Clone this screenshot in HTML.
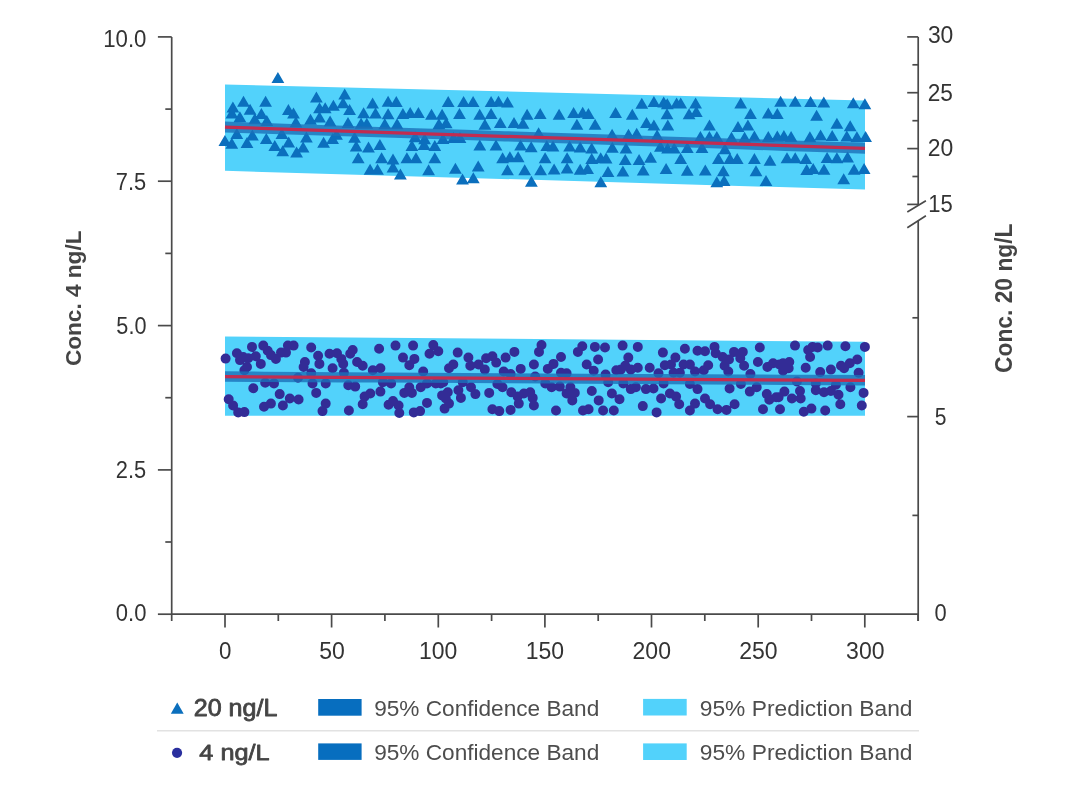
<!DOCTYPE html><html><head><meta charset="utf-8"><title>Concentration chart</title><style>html,body{margin:0;padding:0;background:#fff;width:1080px;height:794px;overflow:hidden}svg{display:block;will-change:transform}text{font-family:"Liberation Sans",Arial,sans-serif}</style></head><body>
<svg width="1080" height="794" viewBox="0 0 1080 794">
<rect width="1080" height="794" fill="#fff"/>
<polygon points="225,84.4 865,100.6 865,189.6 225,170.8" fill="#52d2fb"/>
<polygon points="225,336.6 865,341.7 865,415.8 225,415.8" fill="#52d2fb"/>
<path d="M271.5 83.0L277.9 72.0L284.3 83.0ZM218.5 146.0L224.9 135.0L231.3 146.0ZM225.4 148.8L231.8 137.8L238.2 148.8ZM226.5 112.5L232.9 101.5L239.3 112.5ZM225.5 118.5L231.9 107.5L238.3 118.5ZM237.1 106.7L243.5 95.7L249.9 106.7ZM243.7 114.8L250.1 103.8L256.5 114.8ZM233.5 122.3L239.9 111.3L246.3 122.3ZM259.2 106.7L265.6 95.7L272.0 106.7ZM255.0 119.0L261.4 108.0L267.8 119.0ZM248.4 124.3L254.8 113.3L261.2 124.3ZM260.4 125.9L266.8 114.9L273.2 125.9ZM230.4 139.0L236.8 128.0L243.2 139.0ZM246.0 140.6L252.4 129.6L258.8 140.6ZM240.6 148.0L247.0 137.0L253.4 148.0ZM259.9 143.9L266.3 132.9L272.7 143.9ZM268.4 150.9L274.8 139.9L281.2 150.9ZM276.3 156.2L282.7 145.2L289.1 156.2ZM282.3 147.5L288.7 136.5L295.1 147.5ZM290.2 157.5L296.6 146.5L303.0 157.5ZM296.7 152.6L303.1 141.6L309.5 152.6ZM300.0 142.6L306.4 131.6L312.8 142.6ZM282.0 114.9L288.4 103.9L294.8 114.9ZM287.1 118.5L293.5 107.5L299.9 118.5ZM289.5 127.5L295.9 116.5L302.3 127.5ZM275.5 139.0L281.9 128.0L288.3 139.0ZM310.0 102.6L316.4 91.6L322.8 102.6ZM313.1 113.3L319.5 102.3L325.9 113.3ZM304.1 124.7L310.5 113.7L316.9 124.7ZM313.1 122.6L319.5 111.6L325.9 122.6ZM318.8 113.3L325.2 102.3L331.6 113.3ZM327.0 110.8L333.4 99.8L339.8 110.8ZM323.7 126.4L330.1 115.4L336.5 126.4ZM317.2 147.7L323.6 136.7L330.0 147.7ZM326.2 143.9L332.6 132.9L339.0 143.9ZM338.3 99.4L344.7 88.4L351.1 99.4ZM336.7 108.2L343.1 97.2L349.5 108.2ZM343.2 114.9L349.6 103.9L356.0 114.9ZM341.6 128.0L348.0 117.0L354.4 128.0ZM366.2 108.4L372.6 97.4L379.0 108.4ZM381.7 106.7L388.1 95.7L394.5 106.7ZM389.9 107.1L396.3 96.1L402.7 107.1ZM357.2 118.2L363.6 107.2L370.0 118.2ZM369.1 118.5L375.5 107.5L381.9 118.5ZM381.7 119.3L388.1 108.3L394.5 119.3ZM396.5 119.0L402.9 108.0L409.3 119.0ZM403.8 118.0L410.2 107.0L416.6 118.0ZM412.0 118.0L418.4 107.0L424.8 118.0ZM425.1 119.8L431.5 108.8L437.9 119.8ZM435.7 119.8L442.1 108.8L448.5 119.8ZM441.8 107.1L448.2 96.1L454.6 107.1ZM354.7 128.8L361.1 117.8L367.5 128.8ZM360.4 128.8L366.8 117.8L373.2 128.8ZM378.4 129.2L384.8 118.2L391.2 129.2ZM390.7 129.2L397.1 118.2L403.5 129.2ZM432.5 129.2L438.9 118.2L445.3 129.2ZM439.8 128.3L446.2 117.3L452.6 128.3ZM330.1 139.8L336.5 128.8L342.9 139.8ZM348.2 142.8L354.6 131.8L361.0 142.8ZM349.8 151.6L356.2 140.6L362.6 151.6ZM362.1 152.6L368.5 141.6L374.9 152.6ZM373.5 150.1L379.9 139.1L386.3 150.1ZM351.8 163.2L358.2 152.2L364.6 163.2ZM375.2 163.2L381.6 152.2L388.0 163.2ZM386.6 164.4L393.0 153.4L399.4 164.4ZM363.7 174.7L370.1 163.7L376.5 174.7ZM371.1 174.7L377.5 163.7L383.9 174.7ZM386.6 172.6L393.0 161.6L399.4 172.6ZM394.0 179.4L400.4 168.4L406.8 179.4ZM400.5 163.2L406.9 152.2L413.3 163.2ZM409.6 163.2L416.0 152.2L422.4 163.2ZM405.5 150.9L411.9 139.9L418.3 150.9ZM417.7 150.1L424.1 139.1L430.5 150.1ZM418.2 144.2L424.6 133.2L431.0 144.2ZM408.7 142.3L415.1 131.3L421.5 142.3ZM428.4 150.9L434.8 139.9L441.2 150.9ZM428.4 163.2L434.8 152.2L441.2 163.2ZM422.2 175.3L428.6 164.3L435.0 175.3ZM436.6 143.9L443.0 132.9L449.4 143.9ZM457.2 107.1L463.6 96.1L470.0 107.1ZM466.7 107.1L473.1 96.1L479.5 107.1ZM484.7 107.1L491.1 96.1L497.5 107.1ZM492.1 106.7L498.5 95.7L504.9 106.7ZM501.1 107.6L507.5 96.6L513.9 107.6ZM453.1 119.0L459.5 108.0L465.9 119.0ZM473.3 119.8L479.7 108.8L486.1 119.8ZM484.7 119.0L491.1 108.0L497.5 119.0ZM478.5 129.7L484.9 118.7L491.3 129.7ZM493.9 128.0L500.3 117.0L506.7 128.0ZM507.6 128.0L514.0 117.0L520.4 128.0ZM516.6 128.8L523.0 117.8L529.4 128.8ZM520.7 119.8L527.1 108.8L533.5 119.8ZM533.8 119.0L540.2 108.0L546.6 119.0ZM552.7 119.8L559.1 108.8L565.5 119.8ZM532.2 138.2L538.6 127.2L545.0 138.2ZM447.1 143.1L453.5 132.1L459.9 143.1ZM453.6 143.1L460.0 132.1L466.4 143.1ZM473.4 150.4L479.8 139.4L486.2 150.4ZM489.6 150.4L496.0 139.4L502.4 150.4ZM514.2 150.4L520.6 139.4L527.0 150.4ZM524.8 152.2L531.2 141.2L537.6 152.2ZM540.4 151.1L546.8 140.1L553.2 151.1ZM546.6 151.6L553.0 140.6L559.4 151.6ZM496.2 163.2L502.6 152.2L509.0 163.2ZM503.5 162.2L509.9 151.2L516.3 162.2ZM511.7 162.2L518.1 151.2L524.5 162.2ZM538.7 163.2L545.1 152.2L551.5 163.2ZM449.0 173.7L455.4 162.7L461.8 173.7ZM471.8 171.4L478.2 160.4L484.6 171.4ZM456.1 184.5L462.5 173.5L468.9 184.5ZM466.9 183.2L473.3 172.2L479.7 183.2ZM501.1 175.3L507.5 164.3L513.9 175.3ZM518.3 175.3L524.7 164.3L531.1 175.3ZM534.2 175.3L540.6 164.3L547.0 175.3ZM547.7 174.5L554.1 163.5L560.5 174.5ZM525.0 186.8L531.4 175.8L537.8 186.8ZM567.2 118.0L573.6 107.0L580.0 118.0ZM576.3 117.7L582.7 106.7L589.1 117.7ZM582.0 118.9L588.4 107.9L594.8 118.9ZM570.5 129.7L576.9 118.7L583.3 129.7ZM588.7 129.7L595.1 118.7L601.5 129.7ZM609.2 118.0L615.6 107.0L622.0 118.0ZM625.9 119.8L632.3 108.8L638.7 119.8ZM635.4 108.7L641.8 97.7L648.2 108.7ZM647.5 107.1L653.9 96.1L660.3 107.1ZM657.3 107.6L663.7 96.6L670.1 107.6ZM660.6 119.3L667.0 108.3L673.4 119.3ZM640.1 128.0L646.5 117.0L652.9 128.0ZM647.5 130.5L653.9 119.5L660.3 130.5ZM661.4 130.5L667.8 119.5L674.2 130.5ZM605.7 139.8L612.1 128.8L618.5 139.8ZM622.1 139.8L628.5 128.8L634.9 139.8ZM630.3 138.7L636.7 127.7L643.1 138.7ZM650.7 140.6L657.1 129.6L663.5 140.6ZM563.2 151.4L569.6 140.4L576.0 151.4ZM573.8 152.4L580.2 141.4L586.6 152.4ZM585.3 153.4L591.7 142.4L598.1 153.4ZM605.9 152.7L612.3 141.7L618.7 152.7ZM619.6 153.4L626.0 142.4L632.4 153.4ZM654.0 151.8L660.4 140.8L666.8 151.8ZM560.7 163.2L567.1 152.2L573.5 163.2ZM585.3 164.0L591.7 153.0L598.1 164.0ZM594.3 163.2L600.7 152.2L607.1 163.2ZM599.7 163.5L606.1 152.5L612.5 163.5ZM618.8 164.9L625.2 153.9L631.6 164.9ZM632.7 164.9L639.1 153.9L645.5 164.9ZM644.2 162.7L650.6 151.7L657.0 162.7ZM560.7 173.4L567.1 162.4L573.5 173.4ZM573.8 174.7L580.2 163.7L586.6 174.7ZM581.2 173.9L587.6 162.9L594.0 173.9ZM601.6 177.1L608.0 166.1L614.4 177.1ZM616.5 176.5L622.9 165.5L629.3 176.5ZM636.8 175.5L643.2 164.5L649.6 175.5ZM659.7 173.9L666.1 162.9L672.5 173.9ZM594.4 187.3L600.8 176.3L607.2 187.3ZM660.9 109.2L667.3 98.2L673.7 109.2ZM670.2 108.4L676.6 97.4L683.0 108.4ZM674.3 108.4L680.7 97.4L687.1 108.4ZM689.2 108.4L695.6 97.4L702.0 108.4ZM682.7 119.2L689.1 108.2L695.5 119.2ZM689.9 116.9L696.3 105.9L702.7 116.9ZM734.3 108.4L740.7 97.4L747.1 108.4ZM774.2 106.7L780.6 95.7L787.0 106.7ZM744.1 119.0L750.5 108.0L756.9 119.0ZM761.9 118.5L768.3 107.5L774.7 118.5ZM770.9 119.0L777.3 108.0L783.7 119.0ZM703.1 130.5L709.5 119.5L715.9 130.5ZM731.6 132.1L738.0 121.1L744.4 132.1ZM741.5 130.5L747.9 119.5L754.3 130.5ZM694.0 141.9L700.4 130.9L706.8 141.9ZM703.0 141.9L709.4 130.9L715.8 141.9ZM710.4 141.9L716.8 130.9L723.2 141.9ZM725.1 142.8L731.5 131.8L737.9 142.8ZM738.2 142.8L744.6 131.8L751.0 142.8ZM748.0 141.4L754.4 130.4L760.8 141.4ZM761.9 141.9L768.3 130.9L774.7 141.9ZM770.9 141.4L777.3 130.4L783.7 141.4ZM777.5 141.0L783.9 130.0L790.3 141.0ZM667.8 153.4L674.2 142.4L680.6 153.4ZM680.9 152.9L687.3 141.9L693.7 152.9ZM695.6 152.9L702.0 141.9L708.4 152.9ZM718.5 154.2L724.9 143.2L731.3 154.2ZM674.3 164.0L680.7 153.0L687.1 164.0ZM712.0 164.0L718.4 153.0L724.8 164.0ZM723.5 164.0L729.9 153.0L736.3 164.0ZM730.8 164.0L737.2 153.0L743.6 164.0ZM748.0 164.0L754.4 153.0L760.8 164.0ZM763.6 165.7L770.0 154.7L776.4 165.7ZM680.9 175.8L687.3 164.8L693.7 175.8ZM698.9 175.5L705.3 164.5L711.7 175.5ZM716.9 176.3L723.3 165.3L729.7 176.3ZM710.4 187.3L716.8 176.3L723.2 187.3ZM717.7 186.0L724.1 175.0L730.5 186.0ZM749.6 176.3L756.0 165.3L762.4 176.3ZM759.6 186.0L766.0 175.0L772.4 186.0ZM661.2 153.4L667.6 142.4L674.0 153.4ZM788.8 106.7L795.2 95.7L801.6 106.7ZM804.2 107.1L810.6 96.1L817.0 107.1ZM817.4 107.6L823.8 96.6L830.2 107.6ZM846.9 108.2L853.3 97.2L859.7 108.2ZM858.5 109.2L864.9 98.2L871.3 109.2ZM810.2 120.7L816.6 109.7L823.0 120.7ZM830.5 128.8L836.9 117.8L843.3 128.8ZM843.8 131.3L850.2 120.3L856.6 131.3ZM784.7 141.9L791.1 130.9L797.5 141.9ZM803.5 142.3L809.9 131.3L816.3 142.3ZM814.2 140.6L820.6 129.6L827.0 140.6ZM825.8 141.1L832.2 130.1L838.6 141.1ZM840.4 141.4L846.8 130.4L853.2 141.4ZM850.5 142.3L856.9 131.3L863.3 142.3ZM859.2 141.9L865.6 130.9L872.0 141.9ZM780.6 163.2L787.0 152.2L793.4 163.2ZM788.8 163.2L795.2 152.2L801.6 163.2ZM799.4 164.0L805.8 153.0L812.2 164.0ZM820.7 163.1L827.1 152.1L833.5 163.1ZM830.5 163.2L836.9 152.2L843.3 163.2ZM841.2 162.4L847.6 151.4L854.0 162.4ZM800.3 175.0L806.7 164.0L813.1 175.0ZM806.8 174.0L813.2 163.0L819.6 174.0ZM817.6 174.7L824.0 163.7L830.4 174.7ZM847.7 174.7L854.1 163.7L860.5 174.7ZM857.7 173.9L864.1 162.9L870.5 173.9ZM837.3 184.3L843.7 173.3L850.1 184.3Z" fill="#0b6fbd"/>
<path d="M220.6 358.6a5.0 5.0 0 1 0 10.0 0a5.0 5.0 0 1 0 -10.0 0ZM231.9 353.2a5.0 5.0 0 1 0 10.0 0a5.0 5.0 0 1 0 -10.0 0ZM235.0 360.1a5.0 5.0 0 1 0 10.0 0a5.0 5.0 0 1 0 -10.0 0ZM238.2 357.0a5.0 5.0 0 1 0 10.0 0a5.0 5.0 0 1 0 -10.0 0ZM243.2 358.2a5.0 5.0 0 1 0 10.0 0a5.0 5.0 0 1 0 -10.0 0ZM242.0 367.0a5.0 5.0 0 1 0 10.0 0a5.0 5.0 0 1 0 -10.0 0ZM247.0 346.9a5.0 5.0 0 1 0 10.0 0a5.0 5.0 0 1 0 -10.0 0ZM250.8 356.3a5.0 5.0 0 1 0 10.0 0a5.0 5.0 0 1 0 -10.0 0ZM255.8 363.9a5.0 5.0 0 1 0 10.0 0a5.0 5.0 0 1 0 -10.0 0ZM258.3 345.6a5.0 5.0 0 1 0 10.0 0a5.0 5.0 0 1 0 -10.0 0ZM262.7 350.7a5.0 5.0 0 1 0 10.0 0a5.0 5.0 0 1 0 -10.0 0ZM265.9 355.1a5.0 5.0 0 1 0 10.0 0a5.0 5.0 0 1 0 -10.0 0ZM270.9 358.9a5.0 5.0 0 1 0 10.0 0a5.0 5.0 0 1 0 -10.0 0ZM276.0 352.6a5.0 5.0 0 1 0 10.0 0a5.0 5.0 0 1 0 -10.0 0ZM281.0 352.6a5.0 5.0 0 1 0 10.0 0a5.0 5.0 0 1 0 -10.0 0ZM282.9 345.6a5.0 5.0 0 1 0 10.0 0a5.0 5.0 0 1 0 -10.0 0ZM288.6 345.6a5.0 5.0 0 1 0 10.0 0a5.0 5.0 0 1 0 -10.0 0ZM239.4 370.2a5.0 5.0 0 1 0 10.0 0a5.0 5.0 0 1 0 -10.0 0ZM248.3 388.2a5.0 5.0 0 1 0 10.0 0a5.0 5.0 0 1 0 -10.0 0ZM260.2 382.8a5.0 5.0 0 1 0 10.0 0a5.0 5.0 0 1 0 -10.0 0ZM269.0 383.4a5.0 5.0 0 1 0 10.0 0a5.0 5.0 0 1 0 -10.0 0ZM274.7 394.1a5.0 5.0 0 1 0 10.0 0a5.0 5.0 0 1 0 -10.0 0ZM223.7 399.2a5.0 5.0 0 1 0 10.0 0a5.0 5.0 0 1 0 -10.0 0ZM228.1 405.5a5.0 5.0 0 1 0 10.0 0a5.0 5.0 0 1 0 -10.0 0ZM233.2 412.4a5.0 5.0 0 1 0 10.0 0a5.0 5.0 0 1 0 -10.0 0ZM239.4 412.1a5.0 5.0 0 1 0 10.0 0a5.0 5.0 0 1 0 -10.0 0ZM259.0 406.7a5.0 5.0 0 1 0 10.0 0a5.0 5.0 0 1 0 -10.0 0ZM265.9 403.6a5.0 5.0 0 1 0 10.0 0a5.0 5.0 0 1 0 -10.0 0ZM277.9 405.5a5.0 5.0 0 1 0 10.0 0a5.0 5.0 0 1 0 -10.0 0ZM284.8 398.5a5.0 5.0 0 1 0 10.0 0a5.0 5.0 0 1 0 -10.0 0ZM293.6 399.5a5.0 5.0 0 1 0 10.0 0a5.0 5.0 0 1 0 -10.0 0ZM293.0 377.7a5.0 5.0 0 1 0 10.0 0a5.0 5.0 0 1 0 -10.0 0ZM306.2 347.5a5.0 5.0 0 1 0 10.0 0a5.0 5.0 0 1 0 -10.0 0ZM299.9 362.0a5.0 5.0 0 1 0 10.0 0a5.0 5.0 0 1 0 -10.0 0ZM298.6 367.0a5.0 5.0 0 1 0 10.0 0a5.0 5.0 0 1 0 -10.0 0ZM306.2 373.3a5.0 5.0 0 1 0 10.0 0a5.0 5.0 0 1 0 -10.0 0ZM313.1 355.7a5.0 5.0 0 1 0 10.0 0a5.0 5.0 0 1 0 -10.0 0ZM314.4 363.9a5.0 5.0 0 1 0 10.0 0a5.0 5.0 0 1 0 -10.0 0ZM307.5 383.4a5.0 5.0 0 1 0 10.0 0a5.0 5.0 0 1 0 -10.0 0ZM311.2 392.9a5.0 5.0 0 1 0 10.0 0a5.0 5.0 0 1 0 -10.0 0ZM320.7 383.4a5.0 5.0 0 1 0 10.0 0a5.0 5.0 0 1 0 -10.0 0ZM324.5 353.8a5.0 5.0 0 1 0 10.0 0a5.0 5.0 0 1 0 -10.0 0ZM327.6 368.3a5.0 5.0 0 1 0 10.0 0a5.0 5.0 0 1 0 -10.0 0ZM332.0 353.2a5.0 5.0 0 1 0 10.0 0a5.0 5.0 0 1 0 -10.0 0ZM320.7 403.6a5.0 5.0 0 1 0 10.0 0a5.0 5.0 0 1 0 -10.0 0ZM317.5 411.1a5.0 5.0 0 1 0 10.0 0a5.0 5.0 0 1 0 -10.0 0ZM336.3 358.9a5.0 5.0 0 1 0 10.0 0a5.0 5.0 0 1 0 -10.0 0ZM338.2 363.9a5.0 5.0 0 1 0 10.0 0a5.0 5.0 0 1 0 -10.0 0ZM338.9 372.7a5.0 5.0 0 1 0 10.0 0a5.0 5.0 0 1 0 -10.0 0ZM347.7 350.0a5.0 5.0 0 1 0 10.0 0a5.0 5.0 0 1 0 -10.0 0ZM345.2 353.8a5.0 5.0 0 1 0 10.0 0a5.0 5.0 0 1 0 -10.0 0ZM352.1 362.0a5.0 5.0 0 1 0 10.0 0a5.0 5.0 0 1 0 -10.0 0ZM357.7 365.8a5.0 5.0 0 1 0 10.0 0a5.0 5.0 0 1 0 -10.0 0ZM367.8 370.2a5.0 5.0 0 1 0 10.0 0a5.0 5.0 0 1 0 -10.0 0ZM375.4 368.3a5.0 5.0 0 1 0 10.0 0a5.0 5.0 0 1 0 -10.0 0ZM374.1 348.8a5.0 5.0 0 1 0 10.0 0a5.0 5.0 0 1 0 -10.0 0ZM390.5 345.6a5.0 5.0 0 1 0 10.0 0a5.0 5.0 0 1 0 -10.0 0ZM408.1 345.6a5.0 5.0 0 1 0 10.0 0a5.0 5.0 0 1 0 -10.0 0ZM398.0 357.6a5.0 5.0 0 1 0 10.0 0a5.0 5.0 0 1 0 -10.0 0ZM404.3 365.2a5.0 5.0 0 1 0 10.0 0a5.0 5.0 0 1 0 -10.0 0ZM409.4 358.9a5.0 5.0 0 1 0 10.0 0a5.0 5.0 0 1 0 -10.0 0ZM424.5 353.8a5.0 5.0 0 1 0 10.0 0a5.0 5.0 0 1 0 -10.0 0ZM428.3 345.0a5.0 5.0 0 1 0 10.0 0a5.0 5.0 0 1 0 -10.0 0ZM433.3 351.3a5.0 5.0 0 1 0 10.0 0a5.0 5.0 0 1 0 -10.0 0ZM418.2 371.5a5.0 5.0 0 1 0 10.0 0a5.0 5.0 0 1 0 -10.0 0ZM444.0 368.3a5.0 5.0 0 1 0 10.0 0a5.0 5.0 0 1 0 -10.0 0ZM343.3 385.3a5.0 5.0 0 1 0 10.0 0a5.0 5.0 0 1 0 -10.0 0ZM350.2 386.6a5.0 5.0 0 1 0 10.0 0a5.0 5.0 0 1 0 -10.0 0ZM377.9 382.2a5.0 5.0 0 1 0 10.0 0a5.0 5.0 0 1 0 -10.0 0ZM386.1 383.4a5.0 5.0 0 1 0 10.0 0a5.0 5.0 0 1 0 -10.0 0ZM375.4 391.6a5.0 5.0 0 1 0 10.0 0a5.0 5.0 0 1 0 -10.0 0ZM365.3 393.5a5.0 5.0 0 1 0 10.0 0a5.0 5.0 0 1 0 -10.0 0ZM359.6 396.6a5.0 5.0 0 1 0 10.0 0a5.0 5.0 0 1 0 -10.0 0ZM357.7 404.2a5.0 5.0 0 1 0 10.0 0a5.0 5.0 0 1 0 -10.0 0ZM343.9 410.5a5.0 5.0 0 1 0 10.0 0a5.0 5.0 0 1 0 -10.0 0ZM383.6 404.8a5.0 5.0 0 1 0 10.0 0a5.0 5.0 0 1 0 -10.0 0ZM388.0 401.0a5.0 5.0 0 1 0 10.0 0a5.0 5.0 0 1 0 -10.0 0ZM393.6 405.5a5.0 5.0 0 1 0 10.0 0a5.0 5.0 0 1 0 -10.0 0ZM394.3 413.0a5.0 5.0 0 1 0 10.0 0a5.0 5.0 0 1 0 -10.0 0ZM399.3 392.9a5.0 5.0 0 1 0 10.0 0a5.0 5.0 0 1 0 -10.0 0ZM404.3 387.2a5.0 5.0 0 1 0 10.0 0a5.0 5.0 0 1 0 -10.0 0ZM406.9 392.9a5.0 5.0 0 1 0 10.0 0a5.0 5.0 0 1 0 -10.0 0ZM415.7 387.2a5.0 5.0 0 1 0 10.0 0a5.0 5.0 0 1 0 -10.0 0ZM422.0 383.4a5.0 5.0 0 1 0 10.0 0a5.0 5.0 0 1 0 -10.0 0ZM430.8 383.4a5.0 5.0 0 1 0 10.0 0a5.0 5.0 0 1 0 -10.0 0ZM435.8 383.4a5.0 5.0 0 1 0 10.0 0a5.0 5.0 0 1 0 -10.0 0ZM422.0 402.9a5.0 5.0 0 1 0 10.0 0a5.0 5.0 0 1 0 -10.0 0ZM408.8 412.4a5.0 5.0 0 1 0 10.0 0a5.0 5.0 0 1 0 -10.0 0ZM415.1 411.1a5.0 5.0 0 1 0 10.0 0a5.0 5.0 0 1 0 -10.0 0ZM437.1 395.4a5.0 5.0 0 1 0 10.0 0a5.0 5.0 0 1 0 -10.0 0ZM442.8 392.2a5.0 5.0 0 1 0 10.0 0a5.0 5.0 0 1 0 -10.0 0ZM439.6 408.6a5.0 5.0 0 1 0 10.0 0a5.0 5.0 0 1 0 -10.0 0ZM444.0 403.6a5.0 5.0 0 1 0 10.0 0a5.0 5.0 0 1 0 -10.0 0ZM452.7 352.6a5.0 5.0 0 1 0 10.0 0a5.0 5.0 0 1 0 -10.0 0ZM463.4 357.6a5.0 5.0 0 1 0 10.0 0a5.0 5.0 0 1 0 -10.0 0ZM448.3 364.5a5.0 5.0 0 1 0 10.0 0a5.0 5.0 0 1 0 -10.0 0ZM465.3 365.8a5.0 5.0 0 1 0 10.0 0a5.0 5.0 0 1 0 -10.0 0ZM473.5 364.5a5.0 5.0 0 1 0 10.0 0a5.0 5.0 0 1 0 -10.0 0ZM479.8 369.6a5.0 5.0 0 1 0 10.0 0a5.0 5.0 0 1 0 -10.0 0ZM481.1 358.2a5.0 5.0 0 1 0 10.0 0a5.0 5.0 0 1 0 -10.0 0ZM487.4 356.3a5.0 5.0 0 1 0 10.0 0a5.0 5.0 0 1 0 -10.0 0ZM491.2 362.6a5.0 5.0 0 1 0 10.0 0a5.0 5.0 0 1 0 -10.0 0ZM500.6 357.6a5.0 5.0 0 1 0 10.0 0a5.0 5.0 0 1 0 -10.0 0ZM509.4 351.9a5.0 5.0 0 1 0 10.0 0a5.0 5.0 0 1 0 -10.0 0ZM498.7 371.5a5.0 5.0 0 1 0 10.0 0a5.0 5.0 0 1 0 -10.0 0ZM505.6 374.0a5.0 5.0 0 1 0 10.0 0a5.0 5.0 0 1 0 -10.0 0ZM515.7 368.9a5.0 5.0 0 1 0 10.0 0a5.0 5.0 0 1 0 -10.0 0ZM528.9 364.5a5.0 5.0 0 1 0 10.0 0a5.0 5.0 0 1 0 -10.0 0ZM536.5 345.0a5.0 5.0 0 1 0 10.0 0a5.0 5.0 0 1 0 -10.0 0ZM534.0 351.9a5.0 5.0 0 1 0 10.0 0a5.0 5.0 0 1 0 -10.0 0ZM542.8 368.9a5.0 5.0 0 1 0 10.0 0a5.0 5.0 0 1 0 -10.0 0ZM548.5 363.9a5.0 5.0 0 1 0 10.0 0a5.0 5.0 0 1 0 -10.0 0ZM556.0 357.0a5.0 5.0 0 1 0 10.0 0a5.0 5.0 0 1 0 -10.0 0ZM556.0 372.7a5.0 5.0 0 1 0 10.0 0a5.0 5.0 0 1 0 -10.0 0ZM438.3 382.2a5.0 5.0 0 1 0 10.0 0a5.0 5.0 0 1 0 -10.0 0ZM457.8 382.2a5.0 5.0 0 1 0 10.0 0a5.0 5.0 0 1 0 -10.0 0ZM492.4 384.0a5.0 5.0 0 1 0 10.0 0a5.0 5.0 0 1 0 -10.0 0ZM497.5 387.2a5.0 5.0 0 1 0 10.0 0a5.0 5.0 0 1 0 -10.0 0ZM530.2 376.5a5.0 5.0 0 1 0 10.0 0a5.0 5.0 0 1 0 -10.0 0ZM540.3 383.4a5.0 5.0 0 1 0 10.0 0a5.0 5.0 0 1 0 -10.0 0ZM546.6 387.2a5.0 5.0 0 1 0 10.0 0a5.0 5.0 0 1 0 -10.0 0ZM554.8 386.6a5.0 5.0 0 1 0 10.0 0a5.0 5.0 0 1 0 -10.0 0ZM453.4 390.3a5.0 5.0 0 1 0 10.0 0a5.0 5.0 0 1 0 -10.0 0ZM455.9 397.9a5.0 5.0 0 1 0 10.0 0a5.0 5.0 0 1 0 -10.0 0ZM466.0 387.2a5.0 5.0 0 1 0 10.0 0a5.0 5.0 0 1 0 -10.0 0ZM470.4 394.1a5.0 5.0 0 1 0 10.0 0a5.0 5.0 0 1 0 -10.0 0ZM484.2 392.9a5.0 5.0 0 1 0 10.0 0a5.0 5.0 0 1 0 -10.0 0ZM506.3 392.2a5.0 5.0 0 1 0 10.0 0a5.0 5.0 0 1 0 -10.0 0ZM512.6 396.6a5.0 5.0 0 1 0 10.0 0a5.0 5.0 0 1 0 -10.0 0ZM518.9 393.5a5.0 5.0 0 1 0 10.0 0a5.0 5.0 0 1 0 -10.0 0ZM525.2 392.2a5.0 5.0 0 1 0 10.0 0a5.0 5.0 0 1 0 -10.0 0ZM527.7 397.9a5.0 5.0 0 1 0 10.0 0a5.0 5.0 0 1 0 -10.0 0ZM513.8 403.6a5.0 5.0 0 1 0 10.0 0a5.0 5.0 0 1 0 -10.0 0ZM528.9 405.5a5.0 5.0 0 1 0 10.0 0a5.0 5.0 0 1 0 -10.0 0ZM440.8 398.5a5.0 5.0 0 1 0 10.0 0a5.0 5.0 0 1 0 -10.0 0ZM487.4 409.2a5.0 5.0 0 1 0 10.0 0a5.0 5.0 0 1 0 -10.0 0ZM494.3 411.1a5.0 5.0 0 1 0 10.0 0a5.0 5.0 0 1 0 -10.0 0ZM505.6 409.9a5.0 5.0 0 1 0 10.0 0a5.0 5.0 0 1 0 -10.0 0ZM551.0 410.5a5.0 5.0 0 1 0 10.0 0a5.0 5.0 0 1 0 -10.0 0ZM572.9 351.9a5.0 5.0 0 1 0 10.0 0a5.0 5.0 0 1 0 -10.0 0ZM577.3 346.3a5.0 5.0 0 1 0 10.0 0a5.0 5.0 0 1 0 -10.0 0ZM589.9 346.9a5.0 5.0 0 1 0 10.0 0a5.0 5.0 0 1 0 -10.0 0ZM600.0 347.5a5.0 5.0 0 1 0 10.0 0a5.0 5.0 0 1 0 -10.0 0ZM617.6 345.6a5.0 5.0 0 1 0 10.0 0a5.0 5.0 0 1 0 -10.0 0ZM632.8 346.9a5.0 5.0 0 1 0 10.0 0a5.0 5.0 0 1 0 -10.0 0ZM657.9 352.6a5.0 5.0 0 1 0 10.0 0a5.0 5.0 0 1 0 -10.0 0ZM581.7 364.5a5.0 5.0 0 1 0 10.0 0a5.0 5.0 0 1 0 -10.0 0ZM593.1 359.5a5.0 5.0 0 1 0 10.0 0a5.0 5.0 0 1 0 -10.0 0ZM588.7 370.8a5.0 5.0 0 1 0 10.0 0a5.0 5.0 0 1 0 -10.0 0ZM623.3 357.6a5.0 5.0 0 1 0 10.0 0a5.0 5.0 0 1 0 -10.0 0ZM620.2 365.8a5.0 5.0 0 1 0 10.0 0a5.0 5.0 0 1 0 -10.0 0ZM611.3 370.2a5.0 5.0 0 1 0 10.0 0a5.0 5.0 0 1 0 -10.0 0ZM615.8 369.6a5.0 5.0 0 1 0 10.0 0a5.0 5.0 0 1 0 -10.0 0ZM625.8 369.6a5.0 5.0 0 1 0 10.0 0a5.0 5.0 0 1 0 -10.0 0ZM632.8 367.7a5.0 5.0 0 1 0 10.0 0a5.0 5.0 0 1 0 -10.0 0ZM644.7 367.7a5.0 5.0 0 1 0 10.0 0a5.0 5.0 0 1 0 -10.0 0ZM659.8 365.2a5.0 5.0 0 1 0 10.0 0a5.0 5.0 0 1 0 -10.0 0ZM561.6 373.3a5.0 5.0 0 1 0 10.0 0a5.0 5.0 0 1 0 -10.0 0ZM600.6 374.6a5.0 5.0 0 1 0 10.0 0a5.0 5.0 0 1 0 -10.0 0ZM653.5 373.3a5.0 5.0 0 1 0 10.0 0a5.0 5.0 0 1 0 -10.0 0ZM603.2 382.2a5.0 5.0 0 1 0 10.0 0a5.0 5.0 0 1 0 -10.0 0ZM618.3 383.4a5.0 5.0 0 1 0 10.0 0a5.0 5.0 0 1 0 -10.0 0ZM565.4 387.2a5.0 5.0 0 1 0 10.0 0a5.0 5.0 0 1 0 -10.0 0ZM561.6 393.5a5.0 5.0 0 1 0 10.0 0a5.0 5.0 0 1 0 -10.0 0ZM569.8 392.9a5.0 5.0 0 1 0 10.0 0a5.0 5.0 0 1 0 -10.0 0ZM567.3 400.4a5.0 5.0 0 1 0 10.0 0a5.0 5.0 0 1 0 -10.0 0ZM586.8 391.0a5.0 5.0 0 1 0 10.0 0a5.0 5.0 0 1 0 -10.0 0ZM593.7 400.4a5.0 5.0 0 1 0 10.0 0a5.0 5.0 0 1 0 -10.0 0ZM606.9 393.5a5.0 5.0 0 1 0 10.0 0a5.0 5.0 0 1 0 -10.0 0ZM614.5 399.2a5.0 5.0 0 1 0 10.0 0a5.0 5.0 0 1 0 -10.0 0ZM625.8 389.1a5.0 5.0 0 1 0 10.0 0a5.0 5.0 0 1 0 -10.0 0ZM630.9 387.2a5.0 5.0 0 1 0 10.0 0a5.0 5.0 0 1 0 -10.0 0ZM640.9 389.1a5.0 5.0 0 1 0 10.0 0a5.0 5.0 0 1 0 -10.0 0ZM648.5 388.5a5.0 5.0 0 1 0 10.0 0a5.0 5.0 0 1 0 -10.0 0ZM658.6 383.4a5.0 5.0 0 1 0 10.0 0a5.0 5.0 0 1 0 -10.0 0ZM656.1 398.5a5.0 5.0 0 1 0 10.0 0a5.0 5.0 0 1 0 -10.0 0ZM664.9 393.5a5.0 5.0 0 1 0 10.0 0a5.0 5.0 0 1 0 -10.0 0ZM578.0 410.5a5.0 5.0 0 1 0 10.0 0a5.0 5.0 0 1 0 -10.0 0ZM583.6 409.2a5.0 5.0 0 1 0 10.0 0a5.0 5.0 0 1 0 -10.0 0ZM598.1 410.5a5.0 5.0 0 1 0 10.0 0a5.0 5.0 0 1 0 -10.0 0ZM608.8 410.5a5.0 5.0 0 1 0 10.0 0a5.0 5.0 0 1 0 -10.0 0ZM637.8 406.1a5.0 5.0 0 1 0 10.0 0a5.0 5.0 0 1 0 -10.0 0ZM651.6 412.4a5.0 5.0 0 1 0 10.0 0a5.0 5.0 0 1 0 -10.0 0ZM670.4 357.6a5.0 5.0 0 1 0 10.0 0a5.0 5.0 0 1 0 -10.0 0ZM679.9 348.8a5.0 5.0 0 1 0 10.0 0a5.0 5.0 0 1 0 -10.0 0ZM692.5 350.7a5.0 5.0 0 1 0 10.0 0a5.0 5.0 0 1 0 -10.0 0ZM700.0 351.3a5.0 5.0 0 1 0 10.0 0a5.0 5.0 0 1 0 -10.0 0ZM709.5 346.9a5.0 5.0 0 1 0 10.0 0a5.0 5.0 0 1 0 -10.0 0ZM710.7 353.2a5.0 5.0 0 1 0 10.0 0a5.0 5.0 0 1 0 -10.0 0ZM717.7 357.0a5.0 5.0 0 1 0 10.0 0a5.0 5.0 0 1 0 -10.0 0ZM729.0 351.9a5.0 5.0 0 1 0 10.0 0a5.0 5.0 0 1 0 -10.0 0ZM737.8 351.9a5.0 5.0 0 1 0 10.0 0a5.0 5.0 0 1 0 -10.0 0ZM724.0 359.5a5.0 5.0 0 1 0 10.0 0a5.0 5.0 0 1 0 -10.0 0ZM735.3 358.2a5.0 5.0 0 1 0 10.0 0a5.0 5.0 0 1 0 -10.0 0ZM754.8 347.5a5.0 5.0 0 1 0 10.0 0a5.0 5.0 0 1 0 -10.0 0ZM752.9 362.0a5.0 5.0 0 1 0 10.0 0a5.0 5.0 0 1 0 -10.0 0ZM666.0 364.5a5.0 5.0 0 1 0 10.0 0a5.0 5.0 0 1 0 -10.0 0ZM678.6 364.5a5.0 5.0 0 1 0 10.0 0a5.0 5.0 0 1 0 -10.0 0ZM684.9 364.5a5.0 5.0 0 1 0 10.0 0a5.0 5.0 0 1 0 -10.0 0ZM703.2 365.2a5.0 5.0 0 1 0 10.0 0a5.0 5.0 0 1 0 -10.0 0ZM698.8 370.2a5.0 5.0 0 1 0 10.0 0a5.0 5.0 0 1 0 -10.0 0ZM690.0 371.5a5.0 5.0 0 1 0 10.0 0a5.0 5.0 0 1 0 -10.0 0ZM719.6 365.8a5.0 5.0 0 1 0 10.0 0a5.0 5.0 0 1 0 -10.0 0ZM723.3 371.5a5.0 5.0 0 1 0 10.0 0a5.0 5.0 0 1 0 -10.0 0ZM739.1 365.8a5.0 5.0 0 1 0 10.0 0a5.0 5.0 0 1 0 -10.0 0ZM745.4 374.0a5.0 5.0 0 1 0 10.0 0a5.0 5.0 0 1 0 -10.0 0ZM762.4 367.0a5.0 5.0 0 1 0 10.0 0a5.0 5.0 0 1 0 -10.0 0ZM768.1 363.3a5.0 5.0 0 1 0 10.0 0a5.0 5.0 0 1 0 -10.0 0ZM774.4 364.5a5.0 5.0 0 1 0 10.0 0a5.0 5.0 0 1 0 -10.0 0ZM778.1 363.3a5.0 5.0 0 1 0 10.0 0a5.0 5.0 0 1 0 -10.0 0ZM778.1 370.8a5.0 5.0 0 1 0 10.0 0a5.0 5.0 0 1 0 -10.0 0ZM668.6 372.7a5.0 5.0 0 1 0 10.0 0a5.0 5.0 0 1 0 -10.0 0ZM674.9 372.7a5.0 5.0 0 1 0 10.0 0a5.0 5.0 0 1 0 -10.0 0ZM684.9 384.0a5.0 5.0 0 1 0 10.0 0a5.0 5.0 0 1 0 -10.0 0ZM735.9 384.0a5.0 5.0 0 1 0 10.0 0a5.0 5.0 0 1 0 -10.0 0ZM692.5 389.1a5.0 5.0 0 1 0 10.0 0a5.0 5.0 0 1 0 -10.0 0ZM724.6 388.5a5.0 5.0 0 1 0 10.0 0a5.0 5.0 0 1 0 -10.0 0ZM744.8 391.6a5.0 5.0 0 1 0 10.0 0a5.0 5.0 0 1 0 -10.0 0ZM751.7 387.2a5.0 5.0 0 1 0 10.0 0a5.0 5.0 0 1 0 -10.0 0ZM671.1 396.6a5.0 5.0 0 1 0 10.0 0a5.0 5.0 0 1 0 -10.0 0ZM674.2 404.2a5.0 5.0 0 1 0 10.0 0a5.0 5.0 0 1 0 -10.0 0ZM690.0 403.6a5.0 5.0 0 1 0 10.0 0a5.0 5.0 0 1 0 -10.0 0ZM684.9 410.5a5.0 5.0 0 1 0 10.0 0a5.0 5.0 0 1 0 -10.0 0ZM700.0 398.5a5.0 5.0 0 1 0 10.0 0a5.0 5.0 0 1 0 -10.0 0ZM705.1 404.2a5.0 5.0 0 1 0 10.0 0a5.0 5.0 0 1 0 -10.0 0ZM712.6 409.2a5.0 5.0 0 1 0 10.0 0a5.0 5.0 0 1 0 -10.0 0ZM721.5 409.9a5.0 5.0 0 1 0 10.0 0a5.0 5.0 0 1 0 -10.0 0ZM729.6 404.2a5.0 5.0 0 1 0 10.0 0a5.0 5.0 0 1 0 -10.0 0ZM761.8 394.1a5.0 5.0 0 1 0 10.0 0a5.0 5.0 0 1 0 -10.0 0ZM764.3 399.8a5.0 5.0 0 1 0 10.0 0a5.0 5.0 0 1 0 -10.0 0ZM771.2 397.3a5.0 5.0 0 1 0 10.0 0a5.0 5.0 0 1 0 -10.0 0ZM779.4 391.6a5.0 5.0 0 1 0 10.0 0a5.0 5.0 0 1 0 -10.0 0ZM758.0 409.2a5.0 5.0 0 1 0 10.0 0a5.0 5.0 0 1 0 -10.0 0ZM775.0 409.2a5.0 5.0 0 1 0 10.0 0a5.0 5.0 0 1 0 -10.0 0ZM784.3 362.0a5.0 5.0 0 1 0 10.0 0a5.0 5.0 0 1 0 -10.0 0ZM783.7 368.3a5.0 5.0 0 1 0 10.0 0a5.0 5.0 0 1 0 -10.0 0ZM790.0 345.6a5.0 5.0 0 1 0 10.0 0a5.0 5.0 0 1 0 -10.0 0ZM803.2 350.0a5.0 5.0 0 1 0 10.0 0a5.0 5.0 0 1 0 -10.0 0ZM807.6 346.9a5.0 5.0 0 1 0 10.0 0a5.0 5.0 0 1 0 -10.0 0ZM812.7 347.5a5.0 5.0 0 1 0 10.0 0a5.0 5.0 0 1 0 -10.0 0ZM805.1 357.0a5.0 5.0 0 1 0 10.0 0a5.0 5.0 0 1 0 -10.0 0ZM822.7 345.6a5.0 5.0 0 1 0 10.0 0a5.0 5.0 0 1 0 -10.0 0ZM840.4 346.3a5.0 5.0 0 1 0 10.0 0a5.0 5.0 0 1 0 -10.0 0ZM859.9 346.9a5.0 5.0 0 1 0 10.0 0a5.0 5.0 0 1 0 -10.0 0ZM800.7 367.7a5.0 5.0 0 1 0 10.0 0a5.0 5.0 0 1 0 -10.0 0ZM815.2 372.1a5.0 5.0 0 1 0 10.0 0a5.0 5.0 0 1 0 -10.0 0ZM825.9 369.6a5.0 5.0 0 1 0 10.0 0a5.0 5.0 0 1 0 -10.0 0ZM836.0 365.8a5.0 5.0 0 1 0 10.0 0a5.0 5.0 0 1 0 -10.0 0ZM839.1 368.3a5.0 5.0 0 1 0 10.0 0a5.0 5.0 0 1 0 -10.0 0ZM844.8 363.3a5.0 5.0 0 1 0 10.0 0a5.0 5.0 0 1 0 -10.0 0ZM852.3 359.5a5.0 5.0 0 1 0 10.0 0a5.0 5.0 0 1 0 -10.0 0ZM853.6 372.7a5.0 5.0 0 1 0 10.0 0a5.0 5.0 0 1 0 -10.0 0ZM791.9 381.5a5.0 5.0 0 1 0 10.0 0a5.0 5.0 0 1 0 -10.0 0ZM810.8 383.4a5.0 5.0 0 1 0 10.0 0a5.0 5.0 0 1 0 -10.0 0ZM830.9 384.7a5.0 5.0 0 1 0 10.0 0a5.0 5.0 0 1 0 -10.0 0ZM773.6 397.3a5.0 5.0 0 1 0 10.0 0a5.0 5.0 0 1 0 -10.0 0ZM786.9 398.5a5.0 5.0 0 1 0 10.0 0a5.0 5.0 0 1 0 -10.0 0ZM795.0 391.0a5.0 5.0 0 1 0 10.0 0a5.0 5.0 0 1 0 -10.0 0ZM795.7 398.5a5.0 5.0 0 1 0 10.0 0a5.0 5.0 0 1 0 -10.0 0ZM810.8 390.3a5.0 5.0 0 1 0 10.0 0a5.0 5.0 0 1 0 -10.0 0ZM819.0 392.2a5.0 5.0 0 1 0 10.0 0a5.0 5.0 0 1 0 -10.0 0ZM825.9 391.0a5.0 5.0 0 1 0 10.0 0a5.0 5.0 0 1 0 -10.0 0ZM833.5 394.8a5.0 5.0 0 1 0 10.0 0a5.0 5.0 0 1 0 -10.0 0ZM845.4 387.2a5.0 5.0 0 1 0 10.0 0a5.0 5.0 0 1 0 -10.0 0ZM858.6 392.9a5.0 5.0 0 1 0 10.0 0a5.0 5.0 0 1 0 -10.0 0ZM835.3 404.2a5.0 5.0 0 1 0 10.0 0a5.0 5.0 0 1 0 -10.0 0ZM856.8 405.5a5.0 5.0 0 1 0 10.0 0a5.0 5.0 0 1 0 -10.0 0ZM798.8 411.8a5.0 5.0 0 1 0 10.0 0a5.0 5.0 0 1 0 -10.0 0ZM806.4 408.6a5.0 5.0 0 1 0 10.0 0a5.0 5.0 0 1 0 -10.0 0ZM820.2 410.5a5.0 5.0 0 1 0 10.0 0a5.0 5.0 0 1 0 -10.0 0Z" fill="#332c96"/>
<polygon points="225.0,121.59 265.0,122.99 305.0,124.38 345.0,125.76 385.0,127.13 425.0,128.49 465.0,129.84 505.0,131.17 545.0,132.50 585.0,133.81 625.0,135.12 665.0,136.41 705.0,137.69 745.0,138.96 785.0,140.22 825.0,141.46 865.0,142.70 865.0,153.70 825.0,152.29 785.0,150.88 745.0,149.49 705.0,148.11 665.0,146.74 625.0,145.38 585.0,144.04 545.0,142.70 505.0,141.38 465.0,140.06 425.0,138.76 385.0,137.47 345.0,136.19 305.0,134.92 265.0,133.66 225.0,132.41" fill="#1c70b9" fill-opacity="0.8"/>
<polygon points="225.0,371.36 265.0,371.65 305.0,371.94 345.0,372.21 385.0,372.47 425.0,372.73 465.0,372.98 505.0,373.22 545.0,373.45 585.0,373.67 625.0,373.89 665.0,374.09 705.0,374.29 745.0,374.48 785.0,374.66 825.0,374.84 865.0,375.00 865.0,385.60 825.0,385.30 785.0,385.01 745.0,384.73 705.0,384.46 665.0,384.19 625.0,383.94 585.0,383.69 545.0,383.45 505.0,383.22 465.0,383.00 425.0,382.78 385.0,382.58 345.0,382.38 305.0,382.19 265.0,382.01 225.0,381.84" fill="#1c70b9" fill-opacity="0.8"/>
<line x1="225" y1="127.1" x2="865" y2="148.3" stroke="#c22c50" stroke-width="3.2"/>
<line x1="225" y1="376.7" x2="865" y2="380.4" stroke="#c22c50" stroke-width="3.2"/>
<g stroke="#4a4a4a" stroke-width="1.7" fill="none"><path d="M171.7 36.9V621"/><path d="M171.7 614.2H918.2"/><path d="M918.2 36.9V205.2M918.2 220.8V621"/><path d="M157.9 36.9H171.7"/><path d="M157.9 181.2H171.7"/><path d="M157.9 325.6H171.7"/><path d="M157.9 469.9H171.7"/><path d="M157.9 614.2H171.7"/><path d="M165.3 109.1H171.7"/><path d="M165.3 253.4H171.7"/><path d="M165.3 397.7H171.7"/><path d="M165.3 542.0H171.7"/><path d="M225.0 614.2V627.5"/><path d="M331.6 614.2V627.5"/><path d="M438.3 614.2V627.5"/><path d="M544.9 614.2V627.5"/><path d="M651.5 614.2V627.5"/><path d="M758.2 614.2V627.5"/><path d="M864.8 614.2V627.5"/><path d="M278.3 614.2V621"/><path d="M384.9 614.2V621"/><path d="M491.6 614.2V621"/><path d="M598.2 614.2V621"/><path d="M704.8 614.2V621"/><path d="M811.5 614.2V621"/><path d="M918.1 614.2V621"/><path d="M907.2 36.9H918.2"/><path d="M907.2 92.7H918.2"/><path d="M907.2 148.6H918.2"/><path d="M907.2 204.4H918.2"/><path d="M912.4 64.8H918.2"/><path d="M912.4 120.7H918.2"/><path d="M912.4 176.5H918.2"/><path d="M912.4 515.4H918.2"/><path d="M907.2 416.6H918.2"/><path d="M912.4 317.8H918.2"/><path d="M907.3 212L925.9 200.7M907.3 227.7L925.9 215.8"/></g>
<text transform="matrix(1.0109 0 0 1.0819 103.23 46.56)" font-size="22" font-weight="normal" fill="#333333">10.0</text>
<text transform="matrix(0.9930 0 0 1.0649 115.81 189.77)" font-size="22" font-weight="normal" fill="#333333">7.5</text>
<text transform="matrix(0.9854 0 0 1.0691 116.33 333.66)" font-size="22" font-weight="normal" fill="#333333">5.0</text>
<text transform="matrix(0.9930 0 0 1.0691 115.81 477.56)" font-size="22" font-weight="normal" fill="#333333">2.5</text>
<text transform="matrix(1.0028 0 0 1.0819 115.82 620.86)" font-size="22" font-weight="normal" fill="#333333">0.0</text>
<text transform="matrix(1.0144 0 0 1.0883 218.91 659.06)" font-size="22" font-weight="normal" fill="#333333">0</text>
<text transform="matrix(1.0467 0 0 1.0883 319.15 659.06)" font-size="22" font-weight="normal" fill="#333333">50</text>
<text transform="matrix(1.0440 0 0 1.0819 419.08 659.06)" font-size="22" font-weight="normal" fill="#333333">100</text>
<text transform="matrix(1.0467 0 0 1.0883 525.63 659.06)" font-size="22" font-weight="normal" fill="#333333">150</text>
<text transform="matrix(1.0467 0 0 1.0883 632.55 659.06)" font-size="22" font-weight="normal" fill="#333333">200</text>
<text transform="matrix(1.0467 0 0 1.0883 739.18 659.06)" font-size="22" font-weight="normal" fill="#333333">250</text>
<text transform="matrix(1.0467 0 0 1.1140 846.08 659.25)" font-size="22" font-weight="normal" fill="#333333">300</text>
<text transform="matrix(1.0415 0 0 1.0691 927.88 43.06)" font-size="22" font-weight="normal" fill="#333333">30</text>
<text transform="matrix(1.0294 0 0 1.0627 927.67 100.57)" font-size="22" font-weight="normal" fill="#333333">25</text>
<text transform="matrix(1.0428 0 0 1.0948 927.65 156.26)" font-size="22" font-weight="normal" fill="#333333">20</text>
<text transform="matrix(1.0005 0 0 1.0844 928.35 212.46)" font-size="22" font-weight="normal" fill="#333333">15</text>
<text transform="matrix(0.9569 0 0 1.1104 934.86 425.16)" font-size="22" font-weight="normal" fill="#333333">5</text>
<text transform="matrix(0.9952 0 0 1.0627 934.42 620.57)" font-size="22" font-weight="normal" fill="#333333">0</text>
<text transform="matrix(0 -1.0279 1.0306 0 80.74 366.10)" font-size="22" font-weight="bold" fill="#444444">Conc. 4 ng/L</text>
<text transform="matrix(0 -1.0374 1.0549 0 1012.43 373.01)" font-size="22" font-weight="bold" fill="#444444">Conc. 20 ng/L</text>
<path d="M157 730.7H919" stroke="#e2e2e2" stroke-width="1.4"/>
<path d="M170.8 713.7L177.25 702.6L183.7 713.7Z" fill="#0b6fbd"/>
<circle cx="177.05" cy="752.8" r="5.1" fill="#2a2f9e"/>
<text transform="matrix(1.1409 0 0 1.0549 193.75 716.23)" font-size="22" font-weight="normal" fill="#444444" stroke="#444444" stroke-width="0.75" stroke-linejoin="round">20 ng/L</text>
<text transform="matrix(1.1493 0 0 1.0015 199.37 760.07)" font-size="22" font-weight="normal" fill="#444444" stroke="#444444" stroke-width="0.75" stroke-linejoin="round">4 ng/L</text>
<rect x="318.2" y="699" width="43.4" height="16.7" fill="#076ebf"/>
<rect x="318.2" y="743.4" width="43.4" height="16.5" fill="#076ebf"/>
<rect x="643.1" y="698.9" width="43.6" height="16.6" fill="#52d2fb"/>
<rect x="643.1" y="743.4" width="43.6" height="16.6" fill="#52d2fb"/>
<text transform="matrix(1.0283 0 0 1.0390 374.18 715.77)" font-size="22" font-weight="normal" fill="#4d4d4d">95% Confidence Band</text>
<text transform="matrix(1.0283 0 0 1.0390 374.18 760.27)" font-size="22" font-weight="normal" fill="#4d4d4d">95% Confidence Band</text>
<text transform="matrix(1.0357 0 0 1.0390 699.77 715.77)" font-size="22" font-weight="normal" fill="#4d4d4d">95% Prediction Band</text>
<text transform="matrix(1.0357 0 0 1.0390 699.77 760.27)" font-size="22" font-weight="normal" fill="#4d4d4d">95% Prediction Band</text>
</svg></body></html>
